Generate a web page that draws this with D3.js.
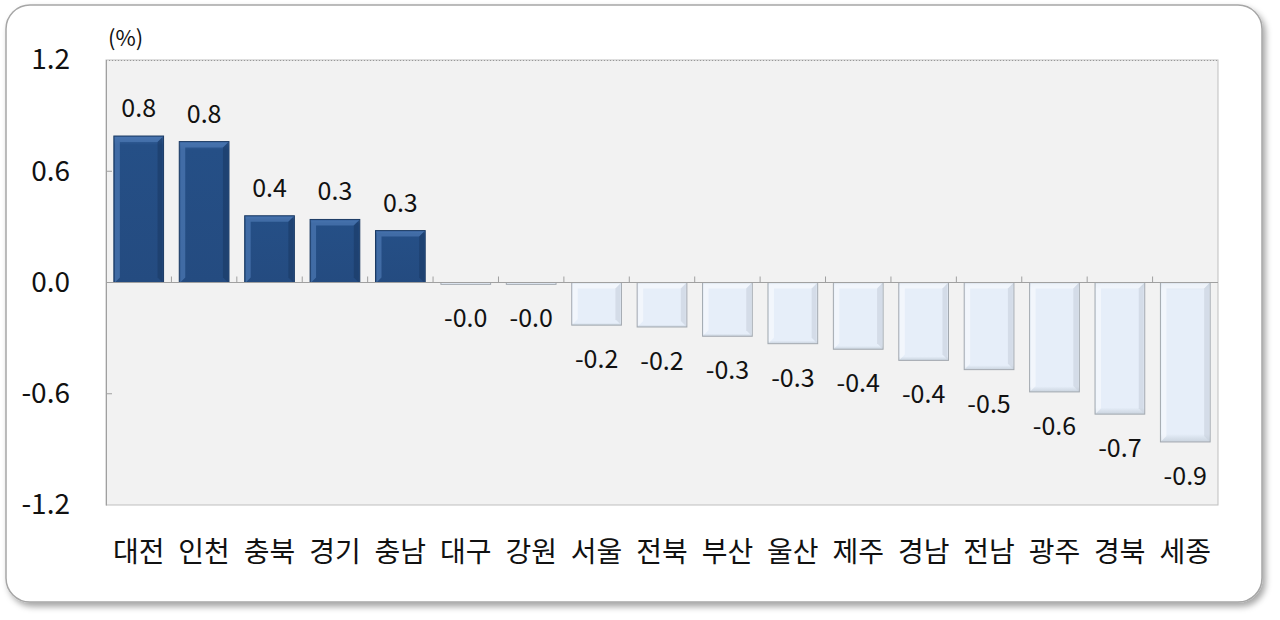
<!DOCTYPE html>
<html>
<head>
<meta charset="utf-8">
<script src="https://cdn.jsdelivr.net/npm/d3@7"></script>
<style>
  body { margin: 0; background: #fff; }
  svg { display: block; }
</style>
</head>
<body>
<svg id="chart" width="1280" height="620"></svg>
<script>
var regions = ["대전", "인천", "충북", "경기", "충남", "대구", "강원", "서울", "전북",
    "부산", "울산", "제주", "경남", "전남", "광주", "경북", "세종"];
var changes = [0.79, 0.76, 0.36, 0.34, 0.28, -0.01, -0.01, -0.23, -0.24,
    -0.29, -0.33, -0.36, -0.42, -0.47, -0.59, -0.71, -0.86];
var yTicks = [-1.2, -0.6, 0.0, 0.6, 1.2];

var svg = d3.select("#chart");
var fontKr = "'Noto Sans CJK KR', 'Noto Sans', sans-serif";

function fmt(v) {
    return (v < 0 ? "-" : "") + Math.abs(v).toFixed(1);
}

var defs = svg.append("defs");
var shadow = defs.append("filter").attr("id", "shadow")
    .attr("x", "-5%").attr("y", "-5%").attr("width", "110%").attr("height", "115%");
shadow.append("feDropShadow")
    .attr("dx", 3).attr("dy", 4).attr("stdDeviation", 3)
    .attr("flood-color", "#000").attr("flood-opacity", 0.35);

// outer frame
svg.append("rect")
    .attr("x", 6).attr("y", 5)
    .attr("width", 1256).attr("height", 597)
    .attr("rx", 24)
    .attr("fill", "#fff")
    .attr("stroke", "#a6a6a6")
    .attr("stroke-width", 1.5)
    .attr("filter", "url(#shadow)");

var margin = {left: 106, top: 60, right: 62, bottom: 115};
var width = 1280 - margin.left - margin.right,
    height = 620 - margin.top - margin.bottom;

var g = svg.append("g")
    .attr("transform", "translate(" + margin.left + "," + margin.top + ")");

var x = d3.scaleBand().domain(regions).range([0, width]).paddingInner(0.24).paddingOuter(0.12);
var y = d3.scaleLinear().domain([-1.2, 1.2]).range([height, 0]);

// plot area
g.append("rect")
    .attr("width", width).attr("height", height)
    .attr("fill", "#f2f2f2")
    .attr("stroke", "#bfbfbf");

g.append("line")
    .attr("x1", 0).attr("x2", width)
    .attr("y1", 0.5).attr("y2", 0.5)
    .attr("stroke", "#999")
    .attr("stroke-dasharray", "1,2");

// y axis
var yAxis = g.append("g")
    .call(d3.axisLeft(y).tickValues(yTicks).tickSize(0).tickPadding(36)
        .tickFormat(fmt));
yAxis.select(".domain").attr("stroke", "#a0a0a0");
yAxis.selectAll("text")
    .attr("font-family", fontKr)
    .attr("font-size", 28)
    .attr("fill", "#111");
g.selectAll(".ytick-in")
    .data(yTicks.filter(function (d) { return d !== 0 && Math.abs(d) < 1.2; }))
    .enter().append("line")
    .attr("x1", 0).attr("x2", 6)
    .attr("y1", function (d) { return y(d); })
    .attr("y2", function (d) { return y(d); })
    .attr("stroke", "#a0a0a0");

g.append("text")
    .attr("x", 2).attr("y", -14)
    .attr("font-family", fontKr)
    .attr("font-size", 22)
    .attr("fill", "#111")
    .text("(%)");

// bar gradients
function addGrad(id, stops) {
    var gr = defs.append("linearGradient").attr("id", id)
        .attr("x1", 0).attr("x2", 0).attr("y1", 0).attr("y2", 1);
    stops.forEach(function (s) {
        gr.append("stop").attr("offset", s[0]).attr("stop-color", s[1]);
    });
}
addGrad("posGrad", [[0, "#3d6aa6"], [0.06, "#254f86"], [1, "#244b80"]]);
addGrad("negGrad", [[0, "#d3dde9"], [0.05, "#e6eef9"], [0.95, "#e6eef9"], [1, "#c9d3de"]]);

var bars = g.append("g").selectAll("g")
    .data(regions.map(function (r, i) { return {region: r, value: changes[i]}; }))
    .enter().append("g");

bars.append("rect")
    .attr("x", function (d) { return x(d.region); })
    .attr("y", function (d) { return y(Math.max(0, d.value)); })
    .attr("width", x.bandwidth())
    .attr("height", function (d) { return Math.abs(y(d.value) - y(0)); })
    .attr("fill", function (d) { return d.value > 0 ? "url(#posGrad)" : "url(#negGrad)"; })
    .attr("stroke", function (d) { return d.value > 0 ? "#1b3a63" : "#a3a9b0"; })
    .attr("stroke-width", 1);

// bevel highlights
bars.filter(function (d) { return Math.abs(y(d.value) - y(0)) > 12; })
    .append("path")
    .attr("d", function (d) {
        var x0 = x(d.region) + 1, x1 = x(d.region) + x.bandwidth() - 1;
        var top = d.value > 0 ? y(d.value) + 1 : y(0) + 1;
        var bot = d.value > 0 ? y(0) : y(d.value) - 1;
        return "M" + x0 + "," + top + "L" + x1 + "," + top +
            "L" + (x1 - 5) + "," + (top + 5) + "L" + (x0 + 5) + "," + (top + 5) + "Z" +
            "M" + x0 + "," + top + "L" + (x0 + 5) + "," + (top + 5) +
            "L" + (x0 + 5) + "," + (bot - 5) + "L" + x0 + "," + bot + "Z";
    })
    .attr("fill", function (d) { return d.value > 0 ? "#4d79b3" : "#f6f9fd"; })
    .attr("opacity", 0.7);
bars.filter(function (d) { return Math.abs(y(d.value) - y(0)) > 12; })
    .append("path")
    .attr("d", function (d) {
        var x0 = x(d.region) + 1, x1 = x(d.region) + x.bandwidth() - 1;
        var top = d.value > 0 ? y(d.value) + 1 : y(0) + 1;
        var bot = d.value > 0 ? y(0) : y(d.value) - 1;
        return "M" + x1 + "," + top + "L" + x1 + "," + bot +
            "L" + (x1 - 5) + "," + (bot - 5) + "L" + (x1 - 5) + "," + (top + 5) + "Z";
    })
    .attr("fill", function (d) { return d.value > 0 ? "#1a3b66" : "#c8d1dc"; })
    .attr("opacity", 0.6);

// zero line with category ticks
g.append("line")
    .attr("x1", 0).attr("x2", width)
    .attr("y1", y(0)).attr("y2", y(0))
    .attr("stroke", "#a0a0a0");
var step = x.step();
g.selectAll(".cat-tick")
    .data(d3.range(1, regions.length))
    .enter().append("line")
    .attr("x1", function (i) { return x(regions[i]) - step * x.paddingInner() / 2; })
    .attr("x2", function (i) { return x(regions[i]) - step * x.paddingInner() / 2; })
    .attr("y1", y(0)).attr("y2", y(0) - 6)
    .attr("stroke", "#a0a0a0");

// value labels
bars.append("text")
    .attr("x", function (d) { return x(d.region) + x.bandwidth() / 2; })
    .attr("y", function (d) {
        return d.value > 0 ? y(d.value) - 19 : y(d.value) + 43;
    })
    .attr("text-anchor", "middle")
    .attr("font-family", fontKr)
    .attr("font-size", 25)
    .attr("fill", "#111")
    .text(function (d) { return fmt(d.value); });

// category labels
g.selectAll(".cat")
    .data(regions)
    .enter().append("text")
    .attr("x", function (d) { return x(d) + x.bandwidth() / 2; })
    .attr("y", height + 57)
    .attr("text-anchor", "middle")
    .attr("font-family", fontKr)
    .attr("font-size", 28)
    .attr("fill", "#111")
    .text(function (d) { return d; });
</script>
</body>
</html>
